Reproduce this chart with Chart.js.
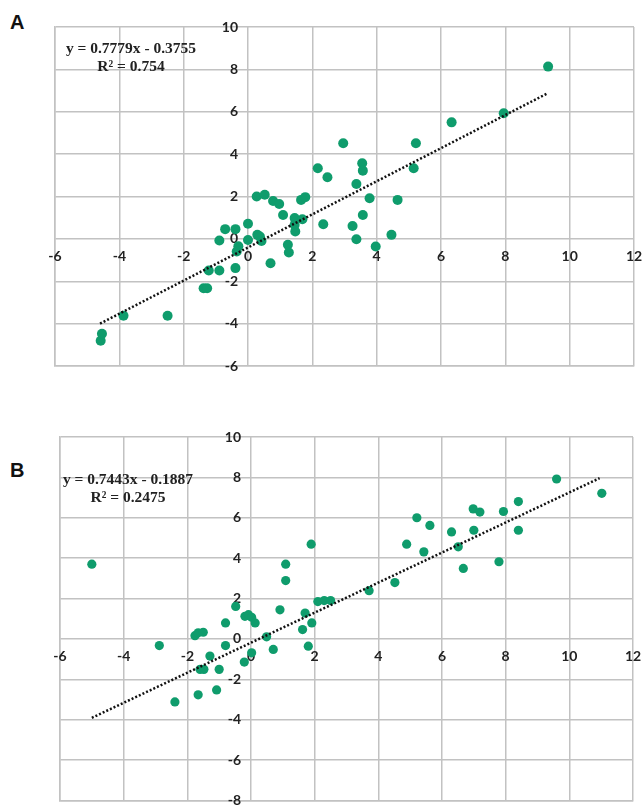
<!DOCTYPE html>
<html>
<head>
<meta charset="utf-8">
<script src="https://cdn.jsdelivr.net/npm/chart.js@4.4.0/dist/chart.umd.min.js"></script>
<style>
  body { margin: 0; background: #fff; width: 643px; height: 805px; position: relative; overflow: hidden; }
  canvas { position: absolute; left: 0; }
  .panel { position: absolute; left: 10px; font: bold 20px "Liberation Sans", Arial, sans-serif; line-height: 20px; color: #111; }
  .eq { position: absolute; width: 170px; font: bold 15.5px "Liberation Serif", serif; line-height: 18px; color: #222; text-align: center; }
</style>
</head>
<body>
<div class="panel" style="top:12px">A</div>
<div class="panel" style="top:460px">B</div>
<canvas id="chartA" width="643" height="390" style="top:0"></canvas>
<canvas id="chartB" width="643" height="405" style="top:400px"></canvas>
<div class="eq" style="left:46px; top:39px">y = 0.7779x - 0.3755<br>R² = 0.754</div>
<div class="eq" style="left:43px; top:470px">y = 0.7443x - 0.1887<br>R² = 0.2475</div>
<script>
// tick labels
const xTicks = [-6, -4, -2, 0, 2, 4, 6, 8, 10, 12];
const yTicksA = [-6, -4, -2, 0, 2, 4, 6, 8, 10];
const yTicksB = [-8, -6, -4, -2, 0, 2, 4, 6, 8, 10];

// panel A points
const aX = [-4.58, -4.54, -3.87, -2.5, -1.38, -1.27, -1.22, -0.89, -0.39, -0.35, -0.3, -0.89, -0.71, -0.39, 0, 0,
  0.29, 0.37, 0.42, 0.7, 0.27, 0.52, 0.78, 0.97, 1.09, 1.24, 1.27, 1.45, 1.45, 1.47, 1.69, 1.65, 1.78, 2.34, 2.17, 2.47,
  9.33, 7.95, 6.33, 2.96, 5.22, 3.55, 3.57, 5.15, 3.37, 3.78, 4.65, 3.57, 3.25, 3.37, 4.46, 3.97];
const aY = [-4.81, -4.48, -3.63, -3.63, -2.33, -2.33, -1.49, -1.49, -1.38, -0.6, -0.35, -0.08, 0.46, 0.46, 0.71, -0.05,
  0.19, 0.11, -0.1, -1.15, 2.0, 2.08, 1.79, 1.65, 1.13, -0.28, -0.64, 0.98, 0.66, 0.35, 0.93, 1.84, 1.97, 0.69, 3.33, 2.91,
  8.13, 5.93, 5.5, 4.51, 4.51, 3.57, 3.22, 3.33, 2.59, 1.92, 1.84, 1.13, 0.61, -0.02, 0.19, -0.36];
const trendAX = [-4.6, 9.3];
const trendAY = [-4.0, 6.86];

// panel B points
const bX = [-5.0, 1.09, 1.09, 1.89, 9.6, 11.02, 8.4, 7.93, 6.98, 7.19, 5.21, 5.62, 6.3, 7.0, 8.4, 4.89, 5.43, 6.51, 6.67,
  7.79, 4.52, 3.71, 2.1, 2.3, 2.5, -2.88, -2.39, -1.66, -1.08, -1.76, -1.66, -1.5, -1.29, -1.6, -1.48, -1.0, -0.8, -0.8,
  -0.48, -0.19, -0.08, 0.02, 0.13, -0.21, 0.02, 0.49, 0.7, 0.91, 1.7, 1.91, 1.62, 1.8];
const bY = [3.7, 3.7, 2.89, 4.69, 7.92, 7.21, 6.8, 6.31, 6.44, 6.28, 6.0, 5.62, 5.3, 5.38, 5.38, 4.69, 4.31, 4.56, 3.49,
  3.82, 2.79, 2.39, 1.85, 1.9, 1.9, -0.33, -3.12, -2.77, -2.53, 0.16, 0.3, 0.33, -0.85, -1.51, -1.51, -1.51, -0.33, 0.79,
  1.61, 1.12, 1.2, 1.07, 0.79, -1.15, -0.69, 0.1, -0.52, 1.44, 1.28, 0.79, 0.46, -0.36];
const trendBX = [-5.0, 10.95];
const trendBY = [-3.91, 7.96];

const green = "#0f9c6c";
const gridColor = "#c2c2c2";

// draws excel-like labels along the zero axes
const zeroAxisLabels = {
  id: "zeroAxisLabels",
  beforeDatasetsDraw(chart, args, opts) {
    const ctx = chart.ctx;
    const xs = chart.scales.x, ys = chart.scales.y;
    const x0 = xs.getPixelForValue(0), y0 = ys.getPixelForValue(0);
    ctx.save();
    ctx.font = "bold 14px Lato, 'Liberation Sans', sans-serif";
    ctx.fillStyle = "#222";
    ctx.textBaseline = "middle";
    ctx.textAlign = "right";
    opts.yTicks.forEach(v => ctx.fillText(String(v), x0 - 10, ys.getPixelForValue(v)));
    ctx.textAlign = "center";
    opts.xTicks.forEach(v => ctx.fillText(String(v), xs.getPixelForValue(v), y0 + 18));
    ctx.restore();
  }
};

function pts(xs, ys) {
  return xs.map((x, i) => ({ x: x, y: ys[i] }));
}

function makeChart(id, xs, ys, tx, ty, yTicks, yMin, padding, radius) {
  const axis = (min, max) => ({
    type: "linear",
    min: min,
    max: max,
    ticks: { stepSize: 2, display: false },
    grid: { color: gridColor, lineWidth: 1.5, drawTicks: false },
    border: { color: gridColor, width: 1.5 }
  });
  return new Chart(document.getElementById(id), {
    type: "scatter",
    data: {
      datasets: [
        {
          data: pts(tx, ty),
          showLine: true,
          borderColor: "#111",
          borderWidth: 2.5,
          borderDash: [2, 2],
          pointRadius: 0,
          order: 0
        },
        {
          data: pts(xs, ys),
          backgroundColor: green,
          borderColor: green,
          pointRadius: radius,
          pointBorderWidth: 0,
          order: 1
        }
      ]
    },
    options: {
      responsive: false,
      animation: false,
      devicePixelRatio: 1,
      layout: { padding: padding },
      plugins: {
        legend: { display: false },
        tooltip: { enabled: false },
        zeroAxisLabels: { xTicks: xTicks, yTicks: yTicks }
      },
      scales: {
        x: axis(-6, 12),
        y: axis(yMin, 10)
      }
    },
    plugins: [zeroAxisLabels]
  });
}

makeChart("chartA", aX, aY, trendAX, trendAY, yTicksA, -6, { left: 55, right: 9, top: 27, bottom: 24 }, 5);
makeChart("chartB", bX, bY, trendBX, trendBY, yTicksB, -8, { left: 60, right: 10, top: 37, bottom: 2 }, 4.6);
</script>
</body>
</html>
